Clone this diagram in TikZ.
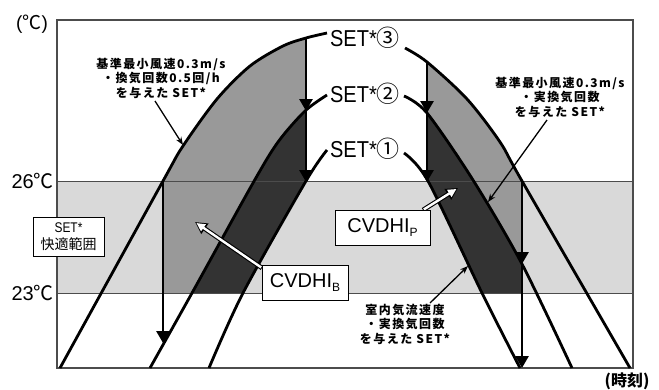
\documentclass[tikz,border=0pt]{standalone}
\usepackage{fontspec}
\setmainfont{Liberation Sans}
\newfontfamily\cjk{Noto Sans CJK JP}
\newfontfamily\cjkan[LetterSpace=12]{Noto Sans CJK JP}
\usetikzlibrary{arrows.meta}
\definecolor{cBand}{gray}{0.85}
\definecolor{cMid}{gray}{0.6}
\definecolor{cDark}{gray}{0.2}
\definecolor{cLine}{gray}{0.3}
\newcommand{\CthreeL}{plot[smooth,tension=0.5] coordinates {(60,368) (163,181) (183,146) (217,99) (250,66) (283,46) (306,38) (327,33)}}
\newcommand{\CthreeR}{plot[smooth,tension=0.5] coordinates {(405,48) (427,62) (467,99) (500,142) (522,181) (630,368)}}
\newcommand{\CtwoL}{plot[smooth,tension=0.5] coordinates {(150,368) (192,293) (253,183) (278,142) (305,111) (327,95)}}
\newcommand{\CtwoR}{plot[smooth,tension=0.5] coordinates {(404,96) (427,113) (473,180) (522,264) (572,368)}}
\newcommand{\ConeL}{plot[smooth,tension=0.5] coordinates {(209,368) (243,293) (306,181) (327,150)}}
\newcommand{\ConeR}{plot[smooth,tension=0.5] coordinates {(404,153) (428,181) (482,293) (520,368)}}
\begin{document}
\begin{tikzpicture}[x=1pt,y=-1pt,
  curve/.style={line width=2.8pt, black},
  varrow/.style={line width=2.8pt, -{Triangle[length=12pt,width=13pt]}},
  ann/.style={font=\cjkan\bfseries\fontsize{12}{14.5}\selectfont, align=center, inner sep=0pt},
  annarrow/.style={line width=1.3pt, -{Stealth[length=8pt,width=6pt]}},
  box/.style={draw=black, line width=0.9pt, fill=white, inner sep=0pt},
  setlab/.style={font=\fontsize{23}{23}\selectfont, inner sep=0pt},
  hlabel/.style={font=\fontsize{20}{20}\selectfont, anchor=east, inner sep=0pt},
  hline/.style={cLine, line width=1pt},
  wouter/.style={black, line width=4.6pt, -{Triangle[length=12pt,width=12pt]}},
  winner/.style={white, line width=2.4pt, shorten >=1.8pt, shorten <=1pt, -{Triangle[length=8.5pt,width=8pt]}}
]
\useasboundingbox (0,0) rectangle (659,389);
\fill[white] (0,0) rectangle (659,389);
% comfort band
\fill[cBand] (57,181) rectangle (633,293);
% left fills
\begin{scope}
  \clip (163,20) rectangle (306,293);
  \fill[cMid, even odd rule] \CthreeL -- (327,380) -- (60,380) -- cycle
                             \CtwoL -- (327,380) -- (150,380) -- cycle;
  \fill[cDark, even odd rule] \CtwoL -- (327,380) -- (150,380) -- cycle
                              \ConeL -- (327,380) -- (209,380) -- cycle;
\end{scope}
% right fills
\begin{scope}
  \clip (427,20) rectangle (522,293);
  \fill[cMid, even odd rule] \CthreeR -- (630,380) -- (405,380) -- cycle
                             \CtwoR -- (572,380) -- (404,380) -- cycle;
  \fill[cDark, even odd rule] \CtwoR -- (572,380) -- (404,380) -- cycle
                              \ConeR -- (520,380) -- (404,380) -- cycle;
\end{scope}
% temperature lines and frame
\draw[hline] (57,181) -- (633,181);
\draw[hline] (57,293) -- (633,293);
\draw[cLine, line width=1.1pt] (57,20) rectangle (633,368);
% curves
\draw[curve] \CthreeL;
\draw[curve] \CthreeR;
\draw[curve] \CtwoL;
\draw[curve] \CtwoR;
\draw[curve] \ConeL;
\draw[curve] \ConeR;
% vertical arrows
\coordinate (L3) at (306,38);
\coordinate (L2) at (306,111);
\coordinate (L1) at (306,182);
\draw[varrow] (L3) -- (L2);
\draw[varrow] (L2) -- (L1);
\coordinate (R3) at (427,62);
\coordinate (R2) at (427,113);
\coordinate (R1) at (427,182);
\draw[varrow] (R3) -- (R2);
\draw[varrow] (R2) -- (R1);
\coordinate (M3) at (163,181);
\coordinate (M2) at (163,343);
\draw[varrow] (M3) -- (M2);
\coordinate (N3) at (522,181);
\coordinate (N2) at (522,264);
\coordinate (N1) at (522,368);
\draw[varrow] (N3) -- (N2);
\draw[varrow] (N2) -- (N1);
% SET labels
\node[setlab] (s3) at (365,38) {\scalebox{0.87}[1]{SET*}{\cjk ③}};
\node[setlab] (s2) at (365,94) {\scalebox{0.87}[1]{SET*}{\cjk ②}};
\node[setlab] (s1) at (365,149) {\scalebox{0.87}[1]{SET*}{\cjk ①}};
% axis labels
\node[font=\fontsize{19}{19}\selectfont, inner sep=0pt] (unit) at (32,24) {({\cjk ℃})};
\node[hlabel] (t26) at (54,181) {26{\cjk ℃}};
\node[hlabel] (t23) at (54,293) {23{\cjk ℃}};
\node[font=\cjk\bfseries\fontsize{16}{16}\selectfont, inner sep=0pt] (time) at (627,381) {(時刻)};
% comfort range box
\node[box, minimum width=71pt, minimum height=39pt, align=center,
      font=\cjk\fontsize{14}{17}\selectfont] (comf) at (68.5,236.5)
  {\scalebox{0.85}[1]{\fontspec{Liberation Sans}SET*}\\快適範囲};
% white arrows
\coordinate (wb1) at (262,268);
\coordinate (wb2) at (195,222);
\draw[wouter] (wb1) -- (wb2);
\draw[winner] (wb1) -- (wb2);
\coordinate (wp1) at (423,210);
\coordinate (wp2) at (458,188);
\draw[wouter] (wp1) -- (wp2);
\draw[winner] (wp1) -- (wp2);
% CVDHI boxes
\node[box, minimum width=86pt, minimum height=35pt, font=\fontsize{20}{20}\selectfont] (cvb) at (305,282.5)
  {CVDHI\raisebox{-4pt}{\fontsize{12}{12}\selectfont B}};
\node[box, minimum width=95pt, minimum height=35pt, font=\fontsize{20}{20}\selectfont] (cvp) at (382.5,227.5)
  {CVDHI\raisebox{-4pt}{\fontsize{12}{12}\selectfont P}};
% annotations
\node[ann] (n1) at (161,78) {基準最小風速0.3m/s\\・換気回数0.5回/h\\を与えた SET*};
\node[ann] (n2) at (560,97) {基準最小風速0.3m/s\\・実換気回数\\を与えた SET*};
\node[ann] (n3) at (405,324) {室内気流速度\\・実換気回数\\を与えた SET*};
\coordinate (a1s) at (155,101);
\coordinate (a1e) at (183,145);
\draw[annarrow] (a1s) -- (a1e);
\coordinate (a2s) at (547,120);
\coordinate (a2e) at (488,202);
\draw[annarrow] (a2s) -- (a2e);
\coordinate (a3s) at (430,303);
\coordinate (a3e) at (468,266);
\draw[annarrow] (a3s) -- (a3e);
\end{tikzpicture}
\end{document}
